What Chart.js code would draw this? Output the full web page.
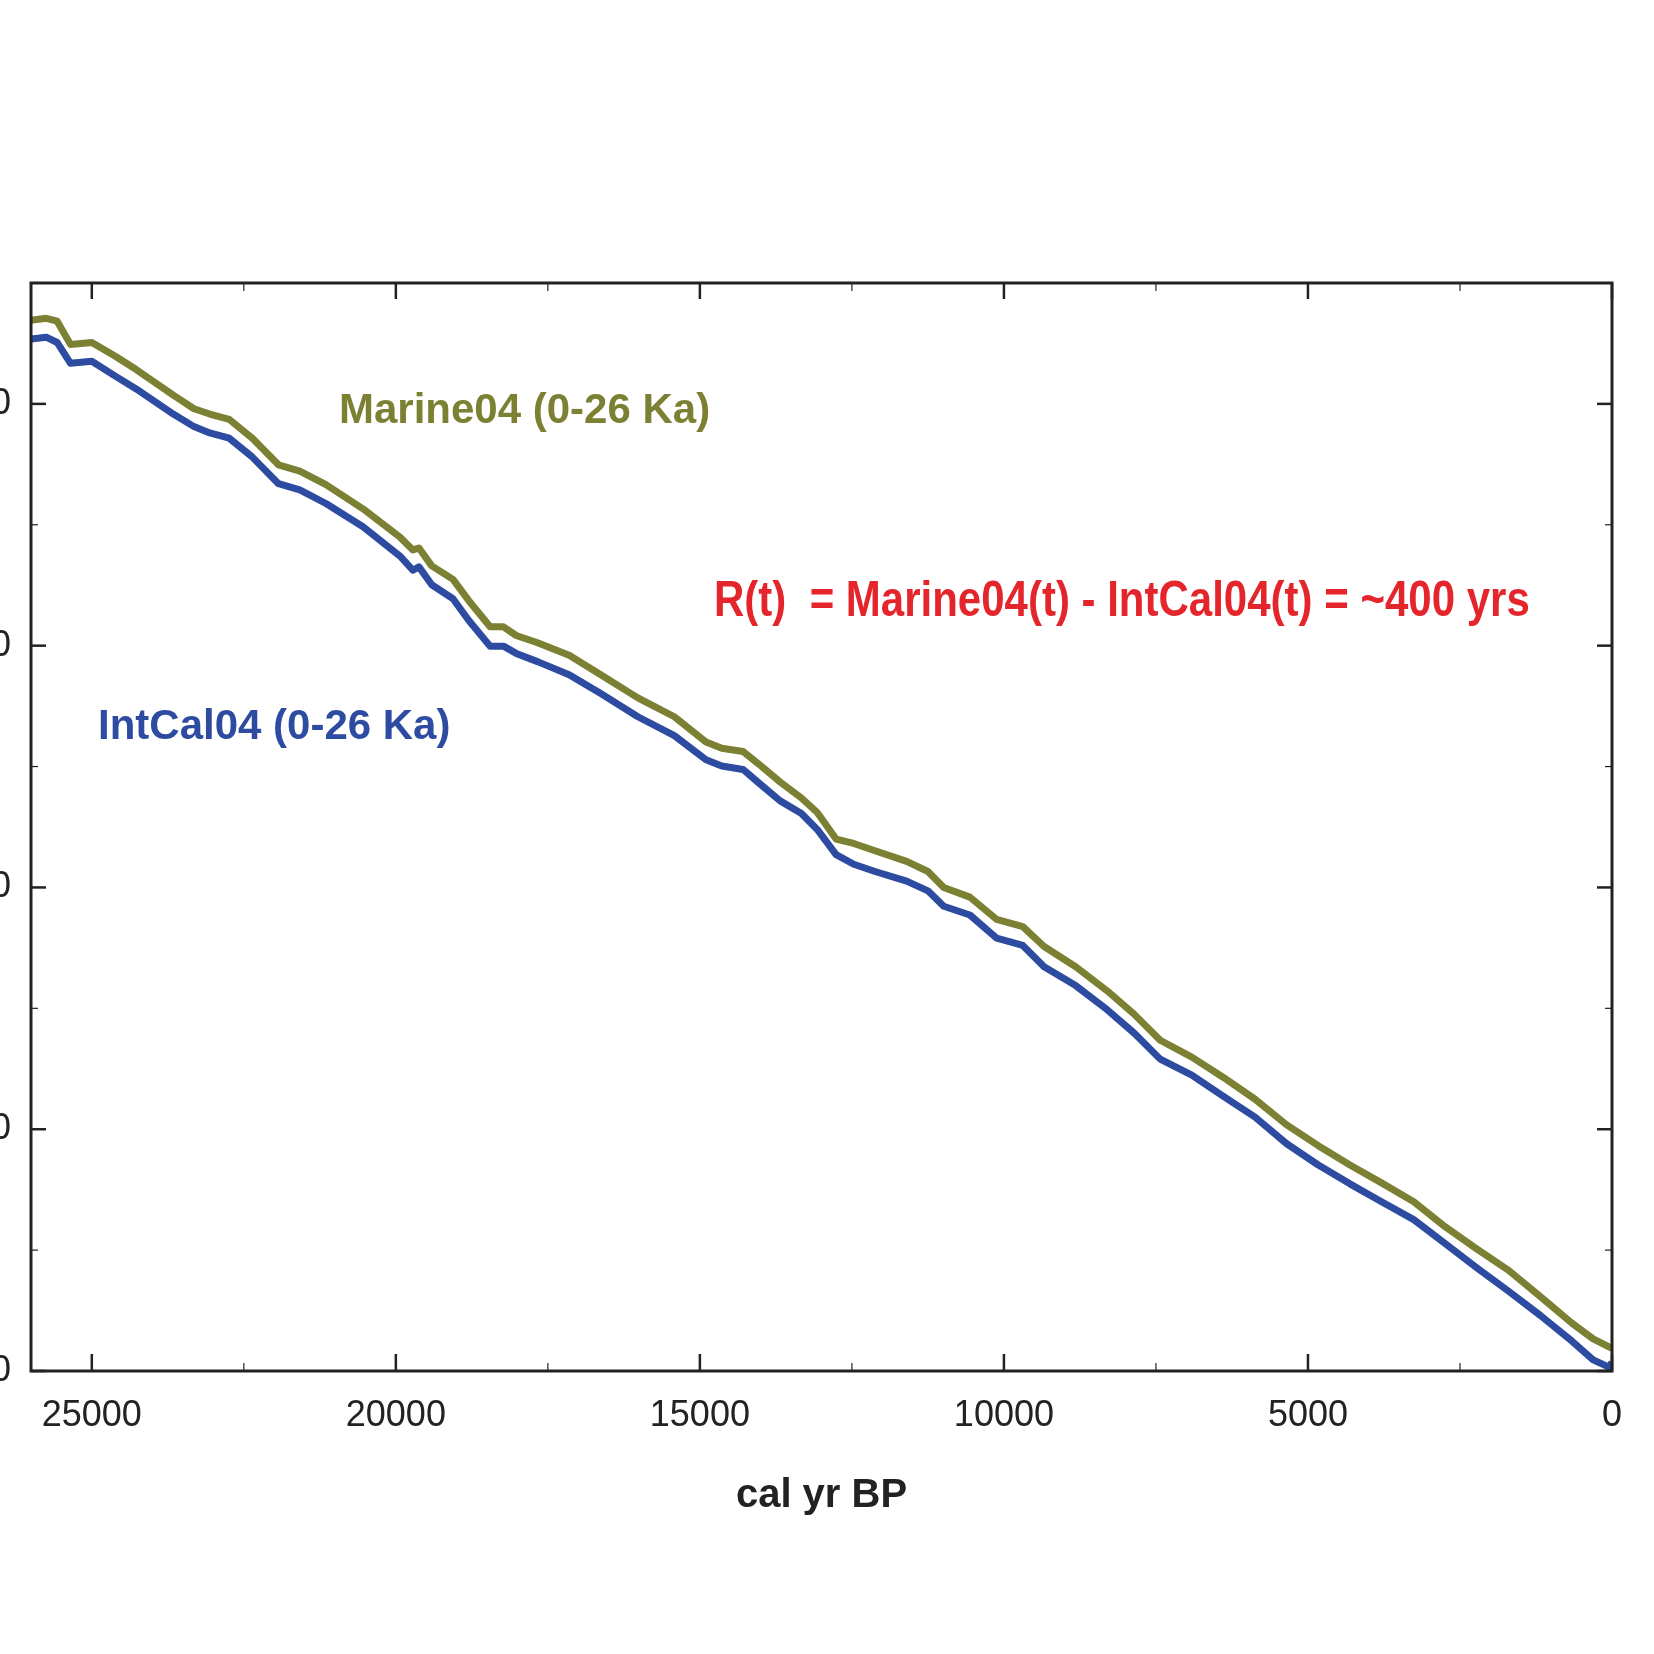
<!DOCTYPE html>
<html>
<head>
<meta charset="utf-8">
<script src="https://cdn.jsdelivr.net/npm/chart.js@4.4.1/dist/chart.umd.min.js"></script>
<style>
  html, body { margin: 0; padding: 0; background: #fff; overflow: hidden; }
  /* canvas is wider than the page and shifted left so the y labels get cut like the original */
  #wrap { position: absolute; left: -200px; top: 0; width: 1854px; height: 1654px; }
</style>
</head>
<body>
<div id="wrap"><canvas id="calChart" width="1854" height="1654"></canvas></div>
<script>
// cal yr BP positions
const calAge = [26000, 25750, 25570, 25350, 25000, 24620, 24270, 23660, 23320, 23060, 22740, 22360, 21930, 21580, 21150, 20540,
  19930, 19720, 19620, 19410, 19060, 18800, 18450, 18230, 18020, 17670, 17150, 16630, 16020, 15420, 14900, 14640, 14290, 14030,
  13680, 13330, 13070, 12760, 12470, 12120, 11600, 11250, 10990, 10560, 10120, 9690, 9340, 8820, 8300, 7860, 7430, 6910, 6390,
  5870, 5350, 4830, 4310, 3790, 3260, 2740, 2220, 1700, 1180, 660, 310, 50, 0];

// 14C age (yr BP)
const intcal04 = [21340, 21380, 21270, 20840, 20880, 20580, 20310, 19790, 19530, 19400, 19290, 18900, 18350, 18220, 17940, 17460,
  16850, 16560, 16630, 16260, 15970, 15520, 14990, 14990, 14840, 14670, 14400, 14010, 13530, 13140, 12640, 12510, 12440, 12160,
  11790, 11530, 11200, 10680, 10480, 10330, 10130, 9930, 9610, 9430, 8950, 8800, 8360, 7970, 7470, 6990, 6450, 6120, 5680,
  5250, 4700, 4260, 3870, 3500, 3130, 2630, 2130, 1650, 1150, 620, 230, 80, 180];

const marine04 = [21730, 21770, 21710, 21230, 21270, 20990, 20710, 20180, 19900, 19790, 19680, 19290, 18740, 18610, 18330, 17830,
  17240, 16980, 17020, 16650, 16370, 15930, 15390, 15390, 15210, 15060, 14800, 14400, 13920, 13530, 13010, 12880, 12810, 12550,
  12180, 11850, 11550, 11000, 10910, 10760, 10540, 10330, 10000, 9800, 9340, 9190, 8780, 8360, 7860, 7380, 6840, 6490, 6070,
  5620, 5090, 4660, 4260, 3890, 3500, 2980, 2520, 2080, 1540, 990, 665, 500, 470];

const xMajorTicks = [25000, 20000, 15000, 10000, 5000, 0];
const xMinorTicks = [22500, 17500, 12500, 7500, 2500];
const yMajorTicks = [0, 5000, 10000, 15000, 20000];
const yMinorTicks = [2500, 7500, 12500, 17500];

const FONT = '"Liberation Sans", Arial, Helvetica, sans-serif';
const AXIS = '#222222';
const OLIVE = '#7b8032';
const BLUE = '#2d4ba0';
const RED = '#e4252b';

const toPoints = (ys) => calAge.map((c, i) => ({ x: c, y: ys[i] }));

// frame, inward tick marks and the text labels
const frameAndLabels = {
    id: 'frameAndLabels',
    afterDraw(chart) {
        const { ctx, chartArea: a, scales: { x, y } } = chart;
        ctx.save();
        ctx.strokeStyle = AXIS;
        ctx.lineCap = 'butt';
        const seg = (x1, y1, x2, y2, w) => {
            ctx.lineWidth = w;
            ctx.beginPath(); ctx.moveTo(x1, y1); ctx.lineTo(x2, y2); ctx.stroke();
        };
        xMajorTicks.forEach(v => {
            const p = x.getPixelForValue(v);
            seg(p, a.bottom, p, a.bottom - 17, 2.5);
            seg(p, a.top, p, a.top + 16, 2.5);
        });
        xMinorTicks.forEach(v => {
            const p = x.getPixelForValue(v);
            seg(p, a.bottom, p, a.bottom - 8, 1.2);
            seg(p, a.top, p, a.top + 8, 1.2);
        });
        yMajorTicks.forEach(v => {
            const p = y.getPixelForValue(v);
            seg(a.left, p, a.left + 15, p, 2.5);
            seg(a.right, p, a.right - 15, p, 2.5);
        });
        yMinorTicks.forEach(v => {
            const p = y.getPixelForValue(v);
            seg(a.left, p, a.left + 7, p, 1.2);
            seg(a.right, p, a.right - 7, p, 1.2);
        });
        ctx.lineWidth = 3;
        ctx.strokeRect(a.left, a.top, a.right - a.left, a.bottom - a.top);

        ctx.textBaseline = 'alphabetic';
        ctx.textAlign = 'left';
        ctx.font = 'bold 42px ' + FONT;
        ctx.fillStyle = OLIVE;
        ctx.fillText('Marine04 (0-26 Ka)', a.left + 308, a.top + 140);
        ctx.fillStyle = BLUE;
        ctx.fillText('IntCal04 (0-26 Ka)', a.left + 67, a.top + 456);

        // condensed red formula
        ctx.save();
        ctx.translate(a.left + 683, a.top + 333);
        ctx.scale(0.84, 1);
        ctx.font = 'bold 50px ' + FONT;
        ctx.fillStyle = RED;
        ctx.fillText('R(t)  = Marine04(t) - IntCal04(t) = ~400 yrs', 0, 0);
        ctx.restore();
        ctx.restore();
    }
};

new Chart(document.getElementById('calChart'), {
    type: 'line',
    data: {
        datasets: [
            { label: 'Marine04', data: toPoints(marine04), borderColor: OLIVE, borderWidth: 7, pointRadius: 0, tension: 0, borderJoinStyle: 'round', fill: false },
            { label: 'IntCal04', data: toPoints(intcal04), borderColor: BLUE, borderWidth: 7, pointRadius: 0, tension: 0, borderJoinStyle: 'round', fill: false }
        ]
    },
    options: {
        responsive: false,
        animation: false,
        layout: { padding: { top: 283, right: 42, left: 0, bottom: 0 } },
        plugins: { legend: { display: false }, tooltip: { enabled: false } },
        scales: {
            x: {
                type: 'linear',
                reverse: true,
                min: 0,
                max: 26000,
                afterBuildTicks: s => { s.ticks = xMajorTicks.map(v => ({ value: v })); },
                afterFit: s => { s.height = 283; },
                grid: { display: false, drawTicks: false },
                border: { display: false },
                ticks: { padding: 23, color: AXIS, font: { family: FONT, size: 36 }, maxRotation: 0, callback: v => String(v) },
                title: { display: true, text: 'cal yr BP', color: AXIS, font: { family: FONT, size: 40, weight: 'bold' }, padding: { top: 0, bottom: 134 } }
            },
            y: {
                type: 'linear',
                min: 0,
                max: 22500,
                afterBuildTicks: s => { s.ticks = yMajorTicks.map(v => ({ value: v })); },
                afterFit: s => { s.width = 231; },
                grid: { display: false, drawTicks: false },
                border: { display: false },
                ticks: { padding: 20, color: AXIS, font: { family: FONT, size: 36 }, callback: v => String(v) }
            }
        }
    },
    plugins: [frameAndLabels]
});
</script>
</body>
</html>
